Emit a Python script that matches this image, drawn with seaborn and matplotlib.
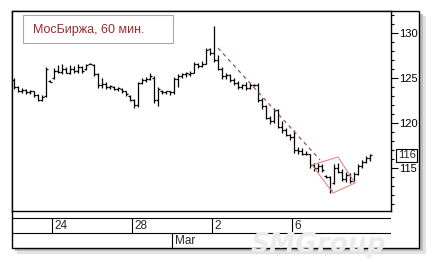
import numpy as np
import pandas as pd
import matplotlib.pyplot as plt
import seaborn as sns
from matplotlib.patches import Rectangle
from matplotlib.ticker import MultipleLocator
from matplotlib.transforms import blended_transform_factory

# hourly bars
bar_open = [124.8, 124.0, 123.6, 123.7, 123.4, 123.5, 123.1, 122.6, 123.0, 124.7,
            125.0, 125.8, 125.7, 126.0, 125.6, 126.0, 125.8, 126.2, 126.0, 126.5,
            126.4, 125.4, 124.2, 124.3, 124.0, 124.0, 123.8, 123.8, 123.5, 123.0,
            122.6, 122.0, 124.4, 124.8, 124.9, 125.0, 122.5, 123.6, 123.4, 123.5,
            123.4, 124.9, 125.2, 125.4, 125.4, 125.6, 126.5, 126.3, 126.6, 128.2,
            127.8, 127.0, 126.0, 125.2, 125.3, 124.8, 124.4, 124.0, 124.2, 123.9,
            124.2, 124.2, 122.6, 121.9, 120.6, 120.2, 121.4, 119.6, 119.2, 118.7,
            118.4, 117.0, 116.9, 116.6, 116.5, 115.3, 115.0, 115.2, 114.1, 114.0,
            113.3, 115.0, 114.6, 113.8, 114.2, 113.5, 114.3, 115.2, 115.7, 116.1]
bar_high = [125.0, 124.1, 123.9, 123.8, 123.7, 123.6, 123.2, 123.1, 126.2, 124.8,
            126.1, 126.4, 126.5, 126.2, 126.4, 126.3, 126.6, 126.3, 126.5, 126.7,
            126.5, 125.6, 125.0, 124.5, 124.2, 124.1, 124.0, 123.9, 123.6, 123.1,
            122.7, 124.6, 125.0, 125.1, 125.6, 125.2, 124.0, 123.7, 123.6, 123.6,
            125.1, 125.4, 125.6, 125.7, 125.8, 126.8, 126.7, 126.9, 128.3, 128.3,
            130.8, 127.6, 126.2, 125.6, 125.4, 125.0, 124.7, 124.3, 124.5, 124.4,
            124.3, 124.4, 122.8, 122.0, 120.8, 121.7, 121.5, 120.2, 119.4, 118.8,
            119.2, 117.3, 117.2, 116.9, 116.5, 115.6, 115.6, 115.4, 114.2, 114.1,
            115.4, 115.6, 114.9, 114.5, 114.4, 114.5, 115.4, 115.9, 116.3, 116.5]
bar_low = [123.8, 123.4, 123.3, 123.2, 123.2, 122.9, 122.4, 122.4, 122.9, 124.5,
           124.9, 125.5, 125.4, 125.5, 125.4, 125.6, 125.6, 125.6, 125.9, 126.5,
           125.2, 123.9, 123.9, 123.8, 123.8, 123.7, 123.5, 123.3, 123.0, 122.4,
           121.7, 121.8, 124.3, 124.6, 124.8, 122.2, 121.9, 123.2, 123.2, 123.1,
           123.2, 124.0, 125.0, 125.1, 125.2, 125.5, 126.1, 126.2, 126.5, 127.6,
           126.8, 125.9, 124.9, 124.9, 124.6, 124.2, 123.8, 123.8, 123.7, 123.8,
           124.1, 122.3, 121.6, 120.4, 119.9, 120.0, 119.4, 118.9, 118.5, 118.1,
           116.7, 116.5, 116.4, 116.4, 115.0, 114.7, 114.6, 114.6, 113.9, 112.2,
           113.2, 114.4, 113.6, 113.4, 113.3, 113.4, 114.2, 115.0, 115.6, 115.8]
bar_close = [124.0, 123.6, 123.7, 123.4, 123.5, 123.1, 122.6, 122.9, 126.0, 124.6,
             125.8, 125.7, 126.0, 125.6, 126.0, 125.8, 126.2, 125.8, 126.4, 126.6,
             125.4, 124.2, 124.3, 124.0, 124.1, 123.8, 123.9, 123.5, 123.2, 122.6,
             122.0, 124.4, 124.8, 124.9, 125.2, 122.5, 123.8, 123.4, 123.5, 123.4,
             124.9, 125.2, 125.4, 125.5, 125.6, 126.5, 126.3, 126.6, 128.1, 127.8,
             127.0, 126.0, 125.2, 125.3, 124.8, 124.4, 124.0, 124.2, 123.9, 124.2,
             124.2, 122.6, 121.9, 120.6, 120.2, 121.4, 119.6, 119.2, 118.7, 118.4,
             117.0, 116.9, 116.6, 116.5, 115.3, 115.0, 115.2, 114.8, 114.0, 112.5,
             115.0, 114.6, 113.8, 114.2, 113.5, 114.3, 115.2, 115.7, 116.1, 116.4]

day_start_bars = [10, 30, 50, 70]
day_labels = ["24", "28", "2", "6"]
month_start_bars = [40]
month_labels = ["Mar"]

trend_bars = [51, 76.5]
trend_prices = [128.33, 115.9]
channel_bars = [74.5, 81, 85.25, 79.75, 74.5]
channel_prices = [115.33, 116.22, 113.33, 112.22, 115.33]

title_text = "МосБиржа, 60 мин."
last_label = "116"
watermark = "SMGroup"

sns.set_style("white")
plt.rcParams["font.family"] = ["Liberation Sans", "DejaVu Sans"]

W, H = 432, 262
fig = plt.figure(figsize=(W / 100, H / 100), dpi=100)
fig.patch.set_facecolor("white")


def px_axes(x0, y0, x1, y1, **kw):
    return fig.add_axes([x0 / W, 1 - y1 / H, (x1 - x0) / W, (y1 - y0) / H], **kw)


# frame + soft shadow in the background
bg = px_axes(0, 0, W, H, zorder=0)
bg.set_xlim(0, W)
bg.set_ylim(H, 0)
bg.axis("off")
bg.add_patch(Rectangle((17, 16), 409, 238, fc="#e2e2e2", ec="none"))
bg.add_patch(Rectangle((15, 14), 408, 237, fc="#bcbcbc", ec="none"))
bg.add_patch(Rectangle((12, 11), 407, 237, fc="white", ec="black", lw=1.0))

df = pd.DataFrame({"open": bar_open, "high": bar_high,
                   "low": bar_low, "close": bar_close})
df["bar"] = np.arange(len(df))

xlim = (-0.5, 94.25)
ax = px_axes(12, 11, 391, 211, zorder=2)
ax.set_facecolor("white")
ax.vlines(df["bar"], df["low"], df["high"], color="black", lw=0.9)
ax.hlines(df["open"], df["bar"] - 0.5, df["bar"], color="black", lw=0.9)
ax.hlines(df["close"], df["bar"], df["bar"] + 0.5, color="black", lw=0.9)

sns.lineplot(x=trend_bars, y=trend_prices, ax=ax, color="#9a5050",
             lw=0.9, linestyle=(0, (3, 3)), estimator=None)
sns.lineplot(x=channel_bars, y=channel_prices, ax=ax, color="#e08a8a",
             lw=0.8, sort=False, estimator=None)

ax.set_xlim(*xlim)
ax.set_ylim(110.22, 132.44)
ax.set_xticks([])
ax.yaxis.tick_right()
ax.yaxis.set_major_locator(MultipleLocator(5))
ax.yaxis.set_minor_locator(MultipleLocator(1))
ax.tick_params(axis="y", which="major", length=5, width=0.8, pad=1,
               labelsize=8, direction="out", colors="black")
ax.tick_params(axis="y", which="minor", length=2.4, width=0.8,
               direction="out", colors="black")
for s in ax.spines.values():
    s.set_visible(True)
    s.set_color("black")
    s.set_linewidth(1.0)

tr = blended_transform_factory(ax.transAxes, ax.transData)
ax.text(1.018, bar_close[-1], last_label, transform=tr, fontsize=8,
        va="center", ha="left", zorder=5,
        bbox=dict(boxstyle="square,pad=0.12", fc="white", ec="black", lw=0.8))

# date rows
axd = px_axes(12, 211, 391, 248, zorder=1)
axd.set_xlim(*xlim)
axd.set_ylim(37, 0)
axd.axis("off")
axd.axhline(7, color="black", lw=0.8)
axd.axhline(22, color="black", lw=0.8)
axd.vlines([b - 0.5 for b in day_start_bars], 7, 22, color="black", lw=0.8)
axd.vlines([b - 0.5 for b in month_start_bars], 22, 37, color="black", lw=0.8)
for b, lab in zip(day_start_bars, day_labels):
    axd.text(b - 0.5 + 0.7, 15, lab, fontsize=8.5, va="center", ha="left")
for b, lab in zip(month_start_bars, month_labels):
    axd.text(b - 0.5 + 0.7, 30, lab, fontsize=8.5, va="center", ha="left")

# overlay: caption box and faint watermark
ov = px_axes(0, 0, W, H, zorder=3)
ov.set_xlim(0, W)
ov.set_ylim(H, 0)
ov.axis("off")
ov.patch.set_alpha(0)
ov.add_patch(Rectangle((23, 15), 150, 28, fc="white", ec="#a8a8a8", lw=0.8))
ov.text(33, 29.5, title_text, color="#9b2a2a", fontsize=9, va="center", ha="left")
ov.text(318, 245, watermark, color="#ececec", fontsize=19, fontweight="bold",
        fontstyle="italic", ha="center", va="center", family="DejaVu Sans",
        zorder=0)

fig.savefig("out.png", dpi=100)
